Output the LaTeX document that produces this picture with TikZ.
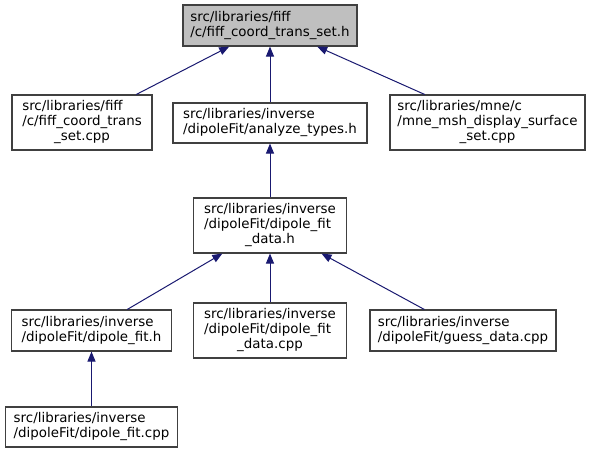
\documentclass[tikz,border=0pt]{standalone}
\usepackage{fontspec}
\setmainfont{DejaVu Sans}
\usetikzlibrary{arrows.meta}
\definecolor{edgeblue}{HTML}{191970}
\definecolor{boxgray}{HTML}{404040}
\definecolor{hdrfill}{HTML}{BFBFBF}
\newcommand{\lastline}[1]{\multicolumn{1}{@{}c@{}}{#1}}
\newcommand{\flab}[1]{\begin{tabular}{@{}l@{}}#1\end{tabular}}

\begin{document}
\begin{tikzpicture}[x=1pt, y=-1pt]
\tikzstyle{fStyle}=[shape = rectangle, draw = boxgray, line width = 1.1pt,
inner sep = 0pt, fill = white, font = \fontsize{13.4}{15}\selectfont]
\tikzstyle{hStyle}=[fStyle, fill = hdrfill]
\tikzstyle{eStyle}=[draw = edgeblue, line width = 1pt,
{Triangle[length=10pt, width=8pt]}-]
\useasboundingbox (0,0) rectangle (595,453);

\node[hStyle, minimum width=174pt, minimum height=41pt] (hdr) at (270,25.5)
	{\flab{src/libraries/fiff\\/c/fiff\_coord\_trans\_set.h}};

\node[fStyle, minimum width=140pt, minimum height=55pt] (tscpp) at (82,122.5)
	{\flab{src/libraries/fiff\\/c/fiff\_coord\_trans\\\lastline{\_set.cpp}}};
\node[fStyle, minimum width=194pt, minimum height=40pt] (anatypes) at (270,123)
	{\flab{src/libraries/inverse\\/dipoleFit/analyze\_types.h}};
\node[fStyle, minimum width=195pt, minimum height=55pt] (mshcpp) at (487.5,122.5)
	{\flab{src/libraries/mne/c\\/mne\_msh\_display\_surface\\\lastline{\_set.cpp}}};

\node[fStyle, minimum width=153pt, minimum height=55pt] (fitdatah) at (270,225.5)
	{\flab{src/libraries/inverse\\/dipoleFit/dipole\_fit\\\lastline{\_data.h}}};

\node[fStyle, minimum width=160pt, minimum height=41pt] (fith) at (91.5,330.5)
	{\flab{src/libraries/inverse\\/dipoleFit/dipole\_fit.h}};
\node[fStyle, minimum width=153pt, minimum height=55pt] (fitdatacpp) at (270,330.5)
	{\flab{src/libraries/inverse\\/dipoleFit/dipole\_fit\\\lastline{\_data.cpp}}};
\node[fStyle, minimum width=186pt, minimum height=41pt] (guesscpp) at (463,330.5)
	{\flab{src/libraries/inverse\\/dipoleFit/guess\_data.cpp}};

\node[fStyle, minimum width=172pt, minimum height=40pt] (fitcpp) at (91.5,427)
	{\flab{src/libraries/inverse\\/dipoleFit/dipole\_fit.cpp}};

\foreach \p/\c in {hdr/tscpp, hdr/anatypes, hdr/mshcpp, anatypes/fitdatah,
	fitdatah/fith, fitdatah/fitdatacpp, fitdatah/guesscpp, fith/fitcpp}
{
	\draw[eStyle] (\p) -- (\c);
}
\end{tikzpicture}
\end{document}
